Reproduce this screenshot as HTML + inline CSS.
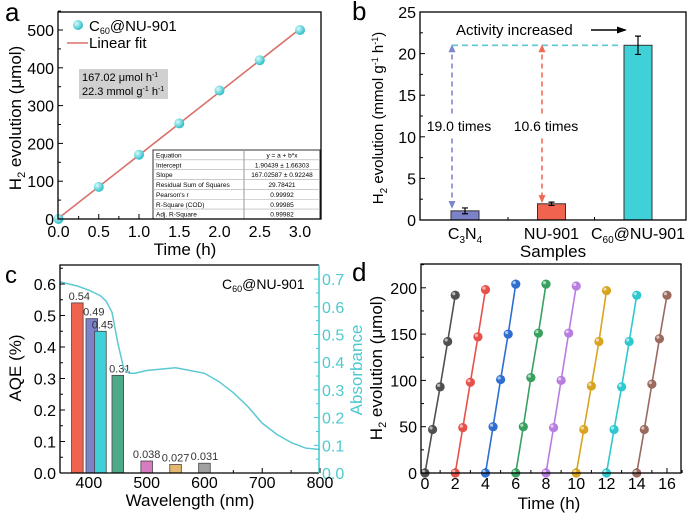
<!DOCTYPE html>
<html><head><meta charset="utf-8"><style>
body{margin:0;background:#fff}
svg{display:block;font-family:"Liberation Sans",Arial,sans-serif}
</style></head><body>
<svg id="s" width="688" height="518" viewBox="0 0 688 518">
<defs>
<radialGradient id="gc" cx="35%" cy="35%" r="65%"><stop offset="0" stop-color="#d8fbfc"/><stop offset="1" stop-color="#2fbfc8"/></radialGradient>
<marker id="arB" markerUnits="userSpaceOnUse" markerWidth="8" markerHeight="8" refX="6" refY="4" orient="auto-start-reverse"><path d="M0,0.5L8,4L0,7.5z" fill="#7e86d0"/></marker>
<marker id="arR" markerUnits="userSpaceOnUse" markerWidth="8" markerHeight="8" refX="6" refY="4" orient="auto-start-reverse"><path d="M0,0.5L8,4L0,7.5z" fill="#ef6a55"/></marker>
<marker id="arK" markerUnits="userSpaceOnUse" markerWidth="10" markerHeight="8" refX="8" refY="4" orient="auto"><path d="M0,0.5L10,4L0,7.5z" fill="#000"/></marker>
</defs>
<g id="gA"></g>
<g id="gB"></g>
<g id="gC"></g>
<g id="gD"></g>
</svg>
<script>
// Panel a data
const aTimes=[0,0.5,1,1.5,2,2.5,3];
const aValues=[0,85,170,253,340,420,500];
const aFit=[1.90439,167.02587];
const aXTicks=["0.0","0.5","1.0","1.5","2.0","2.5","3.0"];
const aYTicks=[0,100,200,300,400,500];
// Panel b data
const bCats=["C3N4","NU-901","C60@NU-901"];
const bValues=[1.1,1.95,21];
const bErrors=[0.35,0.2,1.1];
const bYTicks=[0,5,10,15,20,25];
// Panel c data
const cWl=[380,405,420,450,500,550,600];
const cAqe=[0.54,0.49,0.45,0.31,0.038,0.027,0.031];
const cLabels=["0.54","0.49","0.45","0.31","0.038","0.027","0.031"];
const cAbsWl=[350,380,400,420,430,440,450,460,470,480,500,525,550,575,600,625,650,675,700,725,750,775,800];
const cAbs=[0.69,0.675,0.66,0.64,0.62,0.58,0.47,0.38,0.36,0.36,0.37,0.375,0.38,0.37,0.36,0.33,0.29,0.24,0.18,0.14,0.11,0.09,0.085];
const cYTicks=[0,0.1,0.2,0.3,0.4,0.5,0.6];
const cY2Ticks=[0,0.1,0.2,0.3,0.4,0.5,0.6,0.7];
const cXTicks=[400,500,600,700,800];
// Panel d data
const dOffsets=[0,0.5,1,1.5,2];
const dCycles=[[0,47,93,142,192],[0,49,98,147,198],[0,50,101,150,204],[0,50,103,151,204],[0,49,100,151,202],[0,47,94,142,197],[0,47,93,142,192],[0,47,96,145,192]];
const dXTicks=[0,2,4,6,8,10,12,14,16];
const dYTicks=[0,50,100,150,200];

const NS="http://www.w3.org/2000/svg";
function mk(p,t,a,txt){const e=document.createElementNS(NS,t);for(const k in a)e.setAttribute(k,a[k]);if(txt!==undefined)e.innerHTML=txt;p.appendChild(e);return e;}
function nm(e,n,i){
return e;}

// ===== Panel A =====
(function(){const g=document.getElementById('gA');
const L=58,R=321,T=12,B=219;
const x=v=>58.5+v*(300-58.5)/3, y=v=>219-v*(219-30)/500;
let e=mk(g,'text',{x:5,y:21,'font-size':26},'a');nm(e,'panel-label-a',0);
aYTicks.forEach(v=>{mk(g,'line',{x1:L,x2:L+5,y1:y(v),y2:y(v),stroke:'#000'});mk(g,'line',{x1:L,x2:L+3,y1:y(v+50),y2:y(v+50),stroke:'#000'});
e=mk(g,'text',{x:L-4,y:y(v)+6,'font-size':16,'text-anchor':'end'},v);nm(e,'y-tick-label',0);});
aXTicks.forEach((t,i)=>{const xv=x(i*0.5);mk(g,'line',{x1:xv,x2:xv,y1:B,y2:B-5,stroke:'#000'});mk(g,'line',{x1:x(i*0.5+0.25),x2:x(i*0.5+0.25),y1:B,y2:B-3,stroke:'#000'});
e=mk(g,'text',{x:xv,y:B+18,'font-size':16,'text-anchor':'middle'},t);nm(e,'x-tick-label',0);});
e=mk(g,'text',{x:185,y:255,'font-size':17,'text-anchor':'middle'},'Time (h)');nm(e,'x-axis-title',0);
e=mk(g,'text',{transform:'translate(21,118) rotate(-90)','font-size':17,'text-anchor':'middle'},'H<tspan font-size="11" dy="4">2</tspan><tspan dy="-4"> evolution (μmol)</tspan>');nm(e,'y-axis-title',0);
e=mk(g,'line',{x1:x(0),y1:y(aFit[0]),x2:x(3),y2:y(aFit[0]+aFit[1]*3),stroke:'#d9706a','stroke-width':1.6});nm(e,'linear-fit-line',0);
aTimes.forEach((t,i)=>{e=mk(g,'circle',{cx:x(t),cy:y(aValues[i]),r:5,fill:'url(#gc)'});nm(e,'data-point',0);});
e=mk(g,'circle',{cx:78,cy:25,r:5,fill:'url(#gc)'});nm(e,'legend-marker',0);
e=mk(g,'text',{x:89,y:31,'font-size':15},'C<tspan font-size="9" dy="3">60</tspan><tspan dy="-3">@NU-901</tspan>');nm(e,'legend-entry',0);
e=mk(g,'line',{x1:67,x2:88,y1:43,y2:43,stroke:'#d9706a','stroke-width':1.6});nm(e,'legend-line',0);
e=mk(g,'text',{x:89,y:48,'font-size':15},'Linear fit');nm(e,'legend-entry',0);
e=mk(g,'rect',{x:79,y:69,width:89,height:30,fill:'#d0d0d0'});nm(e,'rate-box',0);
mk(g,'text',{x:82,y:81,'font-size':11},'167.02 μmol h<tspan font-size="7" dy="-4">-1</tspan>');
mk(g,'text',{x:82,y:95,'font-size':11},'22.3 mmol g<tspan font-size="7" dy="-4">-1</tspan><tspan dy="4"> h</tspan><tspan font-size="7" dy="-4">-1</tspan>');
const rows=[["Equation","y = a + b*x"],["Intercept","1.90439 ± 1.66303"],["Slope","167.02587 ± 0.92248"],["Residual Sum of Squares","29.78421"],["Pearson's r","0.99992"],["R-Square (COD)","0.99985"],["Adj. R-Square","0.99982"]];
const tb=mk(g,'g',{});nm(tb,'fit-table',0);
mk(tb,'rect',{x:153,y:150,width:167,height:69,fill:'#fff',stroke:'#333','stroke-width':1});
mk(tb,'line',{x1:244,x2:244,y1:150,y2:219,stroke:'#999'});
rows.forEach((r,i)=>{const yy=150+i*9.85;if(i)mk(tb,'line',{x1:153,x2:320,y1:yy,y2:yy,stroke:'#aaa','stroke-width':0.6});
mk(tb,'text',{x:156,y:yy+7.5,'font-size':6.5},r[0]);mk(tb,'text',{x:282,y:yy+7.5,'font-size':6.5,'text-anchor':'middle'},r[1]);});
e=mk(g,'rect',{x:L,y:T,width:R-L,height:B-T,fill:'none',stroke:'#000','stroke-width':1.3});nm(e,'plot-frame',0);
})();

// ===== Panel B =====
(function(){const g=document.getElementById('gB');
const L=420,R=686,T=12,B=220;
const x=i=>465+(i)*86.5, y=v=>220-v*8.32;
let e=mk(g,'text',{x:352,y:20,'font-size':26},'b');nm(e,'panel-label-b',0);
bYTicks.forEach(v=>{mk(g,'line',{x1:L,x2:L+5,y1:y(v),y2:y(v),stroke:'#000'});if(v<25)mk(g,'line',{x1:L,x2:L+3,y1:y(v+2.5),y2:y(v+2.5),stroke:'#000'});
e=mk(g,'text',{x:L-4,y:y(v)+6,'font-size':16,'text-anchor':'end'},v);nm(e,'y-tick-label',0);});
const labs=['C<tspan font-size="10" dy="4">3</tspan><tspan dy="-4">N</tspan><tspan font-size="10" dy="4">4</tspan>','NU-901','C<tspan font-size="10" dy="4">60</tspan><tspan dy="-4">@NU-901</tspan>'];
const cols=['#7b82c8','#f0644f','#40d0d8'];
bCats.forEach((c,i)=>{const cx=x(i);mk(g,'line',{x1:cx,x2:cx,y1:B,y2:B-5,stroke:'#000'});if(i<2)mk(g,'line',{x1:cx+43,x2:cx+43,y1:B,y2:B-3,stroke:'#000'});
e=mk(g,'rect',{x:cx-14,y:y(bValues[i]),width:28,height:B-y(bValues[i]),fill:cols[i],stroke:'#333','stroke-width':1});nm(e,'bar-'+c.toLowerCase().replace('@','-'),0);
e=mk(g,'path',{d:`M${cx},${y(bValues[i]-bErrors[i])}V${y(bValues[i]+bErrors[i])}M${cx-3},${y(bValues[i]-bErrors[i])}h6M${cx-3},${y(bValues[i]+bErrors[i])}h6`,stroke:'#000','stroke-width':1.2});nm(e,'error-bar',0);
e=mk(g,'text',{x:cx,y:B+19,'font-size':16,'text-anchor':'middle'},labs[i]);nm(e,'x-tick-label',0);});
e=mk(g,'text',{x:553,y:257,'font-size':17,'text-anchor':'middle'},'Samples');nm(e,'x-axis-title',0);
e=mk(g,'text',{transform:'translate(383,118) rotate(-90)','font-size':15,'text-anchor':'middle'},'H<tspan font-size="10" dy="4">2</tspan><tspan dy="-4"> evolution (mmol g</tspan><tspan font-size="9" dy="-5">-1</tspan><tspan dy="5"> h</tspan><tspan font-size="9" dy="-5">-1</tspan><tspan dy="5">)</tspan>');nm(e,'y-axis-title',0);
const yT=y(bValues[2]);
e=mk(g,'line',{x1:452,x2:622,y1:yT,y2:yT,stroke:'#5cc9d2','stroke-width':1.6,'stroke-dasharray':'6,4'});nm(e,'reference-dashed-line',0);
const xa=452,xr=542;
e=mk(g,'path',{d:`M${xa},${y(12.8)}V${yT+1}`,stroke:'#7e86d0','stroke-width':1.6,'stroke-dasharray':'5,4','marker-end':'url(#arB)'});nm(e,'arrow-c3n4-up',0);
e=mk(g,'path',{d:`M${xa},${y(9.8)}V${y(bValues[0]+bErrors[0])-1}`,stroke:'#7e86d0','stroke-width':1.6,'stroke-dasharray':'5,4','marker-end':'url(#arB)'});nm(e,'arrow-c3n4-down',0);
e=mk(g,'path',{d:`M${xr},${y(12.8)}V${yT+1}`,stroke:'#ef6a55','stroke-width':1.6,'stroke-dasharray':'5,4','marker-end':'url(#arR)'});nm(e,'arrow-nu901-up',0);
e=mk(g,'path',{d:`M${xr},${y(9.8)}V${y(bValues[1]+bErrors[1])-1}`,stroke:'#ef6a55','stroke-width':1.6,'stroke-dasharray':'5,4','marker-end':'url(#arR)'});nm(e,'arrow-nu901-down',0);
e=mk(g,'text',{x:459,y:131,'font-size':14,'text-anchor':'middle'},'19.0 times');nm(e,'fold-label-c3n4',0);
e=mk(g,'text',{x:546,y:131,'font-size':14,'text-anchor':'middle'},'10.6 times');nm(e,'fold-label-nu901',0);
e=mk(g,'text',{x:456,y:35,'font-size':15},'Activity increased');nm(e,'annotation-text',0);
e=mk(g,'line',{x1:591,x2:625,y1:30,y2:30,stroke:'#000','stroke-width':1.5,'marker-end':'url(#arK)'});nm(e,'annotation-arrow',0);
e=mk(g,'rect',{x:L,y:T,width:R-L,height:B-T,fill:'none',stroke:'#000','stroke-width':1.3});nm(e,'plot-frame',0);
})();

// ===== Panel C =====
(function(){const g=document.getElementById('gC');
const L=60,R=319,T=265,B=473;
const x=v=>60+(v-350)*0.5778, y=v=>473-v*315, y2=v=>473-v*277;
let e=mk(g,'text',{x:5,y:283,'font-size':24},'c');nm(e,'panel-label-c',0);
cYTicks.forEach(v=>{mk(g,'line',{x1:L,x2:L+5,y1:y(v),y2:y(v),stroke:'#000'});mk(g,'line',{x1:L,x2:L+3,y1:y(v+0.05),y2:y(v+0.05),stroke:'#000'});
e=mk(g,'text',{x:L-4,y:y(v)+6,'font-size':16,'text-anchor':'end'},v.toFixed(1));nm(e,'y-tick-label',0);});
cY2Ticks.forEach(v=>{mk(g,'line',{x1:R,x2:R-5,y1:y2(v),y2:y2(v),stroke:'#40c8d0'});if(v<0.7)mk(g,'line',{x1:R,x2:R-3,y1:y2(v+0.05),y2:y2(v+0.05),stroke:'#40c8d0'});
e=mk(g,'text',{x:R+3,y:y2(v)+6,'font-size':16,fill:'#4fc8d0'},v.toFixed(1));nm(e,'y2-tick-label',0);});
cXTicks.forEach(v=>{mk(g,'line',{x1:x(v),x2:x(v),y1:B,y2:B-5,stroke:'#000'});mk(g,'line',{x1:x(v-50),x2:x(v-50),y1:B,y2:B-3,stroke:'#000'});
e=mk(g,'text',{x:x(v),y:B+15,'font-size':16,'text-anchor':'middle'},v);nm(e,'x-tick-label',0);});
e=mk(g,'text',{x:190,y:506,'font-size':17,'text-anchor':'middle'},'Wavelength (nm)');nm(e,'x-axis-title',0);
e=mk(g,'text',{transform:'translate(21,368) rotate(-90)','font-size':17,'text-anchor':'middle'},'AQE (%)');nm(e,'y-axis-title',0);
e=mk(g,'text',{transform:'translate(362,370) rotate(-90)','font-size':17,'text-anchor':'middle',fill:'#4fc8d0'},'Absorbance');nm(e,'y2-axis-title',0);
const cols=['#f0644f','#7b82c8','#40d0d8','#4daa88','#d77cc0','#e3b870','#a0a0a0'];
cWl.forEach((w,i)=>{e=mk(g,'rect',{x:x(w)-5.8,y:y(cAqe[i]),width:11.6,height:B-y(cAqe[i]),fill:cols[i],stroke:'#444','stroke-width':0.8});nm(e,'bar-'+w+'nm',0);
e=mk(g,'text',{x:x(w)+(i<4?2:0),y:y(cAqe[i])-3,'font-size':11,'text-anchor':'middle',fill:'#333'},cLabels[i]);nm(e,'bar-value-label',0);});
e=mk(g,'path',{d:'M'+cAbsWl.map((w,i)=>x(w)+','+y2(cAbs[i])).join('L'),fill:'none',stroke:'#5cc9d2','stroke-width':1.5});nm(e,'absorbance-curve',0);
e=mk(g,'text',{x:222,y:289,'font-size':14},'C<tspan font-size="9" dy="3">60</tspan><tspan dy="-3">@NU-901</tspan>');nm(e,'sample-label',0);
mk(g,'path',{d:`M${L},${B}V${T}H${R}`,fill:'none',stroke:'#000','stroke-width':1.3});
mk(g,'line',{x1:L,x2:R,y1:B,y2:B,stroke:'#000','stroke-width':1.3});
e=mk(g,'line',{x1:R,x2:R,y1:T,y2:B,stroke:'#40c8d0','stroke-width':1.5});nm(e,'right-axis',0);
})();

// ===== Panel D =====
(function(){const g=document.getElementById('gD');
const L=421,R=681,T=264,B=473;
const x=v=>425+v*15.125, y=v=>473-v*0.926;
let e=mk(g,'text',{x:352,y:281,'font-size':26},'d');nm(e,'panel-label-d',0);
dYTicks.forEach(v=>{mk(g,'line',{x1:L,x2:L+5,y1:y(v),y2:y(v),stroke:'#000'});mk(g,'line',{x1:L,x2:L+3,y1:y(v+25),y2:y(v+25),stroke:'#000'});
e=mk(g,'text',{x:L-4,y:y(v)+6,'font-size':16,'text-anchor':'end'},v);nm(e,'y-tick-label',0);});
dXTicks.forEach(v=>{mk(g,'line',{x1:x(v),x2:x(v),y1:B,y2:B-5,stroke:'#000'});mk(g,'line',{x1:x(v+1),x2:x(v+1),y1:B,y2:B-3,stroke:'#000'});
e=mk(g,'text',{x:x(v),y:B+16,'font-size':16,'text-anchor':'middle'},v);nm(e,'x-tick-label',0);});
e=mk(g,'text',{x:549,y:509,'font-size':17,'text-anchor':'middle'},'Time (h)');nm(e,'x-axis-title',0);
e=mk(g,'text',{transform:'translate(382,368) rotate(-90)','font-size':17,'text-anchor':'middle'},'H<tspan font-size="11" dy="4">2</tspan><tspan dy="-4"> evolution (μmol)</tspan>');nm(e,'y-axis-title',0);
const cols=['#505050','#e8504a','#2e6fd0','#3aa060','#b87de0','#d9a520','#2ec8d0','#9a6a5e'];
dCycles.forEach((cyc,k)=>{const s=mk(g,'g',{});nm(s,'cycle-'+(k+1),0);
mk(s,'path',{d:'M'+cyc.map((v,i)=>x(2*k+dOffsets[i])+','+y(v)).join('L'),fill:'none',stroke:cols[k],'stroke-width':1.6});
cyc.forEach((v,i)=>{e=mk(s,'circle',{cx:x(2*k+dOffsets[i]),cy:y(v),r:4.6,fill:cols[k]});nm(e,'data-point',0);
mk(s,'circle',{cx:x(2*k+dOffsets[i])-1.5,cy:y(v)-1.5,r:1.6,fill:'#fff','fill-opacity':0.6});});});
e=mk(g,'rect',{x:L,y:T,width:R-L,height:B-T,fill:'none',stroke:'#000','stroke-width':1.3});nm(e,'plot-frame',0);
})();
</script>
</body></html>
